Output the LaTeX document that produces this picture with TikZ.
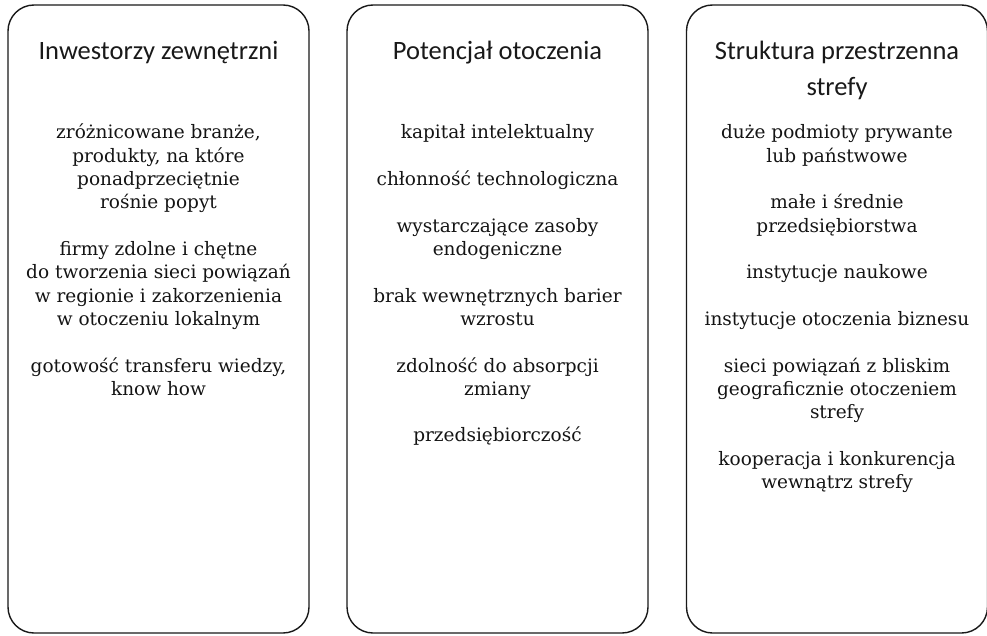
\documentclass[tikz,border=0pt]{standalone}
\usepackage{fontspec}
\setmainfont{DejaVu Serif}
\newfontfamily\titlefont{Carlito}
\begin{document}
\begin{tikzpicture}[x=1pt,y=-1pt,
  panel/.style={draw=black!90, line width=1.4pt, rounded corners=26pt, minimum width=301pt, minimum height=628pt, inner sep=0pt},
  ttl/.style={font=\titlefont\fontsize{26.5}{30}\selectfont, text=black!90, anchor=base, inner sep=0pt},
  bd/.style={font=\fontsize{18.5}{22}\selectfont, text=black!92, anchor=base, inner sep=0pt}]
\useasboundingbox (0,0) rectangle (987,636);
\def\bz{139}\def\st{23.3}
\node[panel] (p1) at (158.5,319) {};
\node[panel] (p2) at (497.5,319) {};
\node[panel] (p3) at (837,319) {};
% titles
\node[ttl] (t1) at (158.5,60) {Inwestorzy zewnętrzni};
\node[ttl] (t2) at (497.5,60) {Potencjał otoczenia};
\node[ttl] (t3a) at (837,60) {Struktura przestrzenna};
\node[ttl] (t3b) at (837,96) {strefy};
% box 1
\node[bd] (a1) at (158.5,{\bz+0*\st}) {zróżnicowane branże,};
\node[bd] (a2) at (158.5,{\bz+1*\st}) {produkty, na które};
\node[bd] (a3) at (158.5,{\bz+2*\st}) {ponadprzeciętnie};
\node[bd] (a4) at (158.5,{\bz+3*\st}) {rośnie popyt};
\node[bd] (a5) at (158.5,{\bz+5*\st}) {firmy zdolne i chętne};
\node[bd] (a6) at (158.5,{\bz+6*\st}) {do tworzenia sieci powiązań};
\node[bd] (a7) at (158.5,{\bz+7*\st}) {w regionie i zakorzenienia};
\node[bd] (a8) at (158.5,{\bz+8*\st}) {w otoczeniu lokalnym};
\node[bd] (a9) at (158.5,{\bz+10*\st}) {gotowość transferu wiedzy,};
\node[bd] (a10) at (158.5,{\bz+11*\st}) {know how};
% box 2
\node[bd] (b1) at (497.5,{\bz+0*\st}) {kapitał intelektualny};
\node[bd] (b2) at (497.5,{\bz+2*\st}) {chłonność technologiczna};
\node[bd] (b3) at (497.5,{\bz+4*\st}) {wystarczające zasoby};
\node[bd] (b4) at (497.5,{\bz+5*\st}) {endogeniczne};
\node[bd] (b5) at (497.5,{\bz+7*\st}) {brak wewnętrznych barier};
\node[bd] (b6) at (497.5,{\bz+8*\st}) {wzrostu};
\node[bd] (b7) at (497.5,{\bz+10*\st}) {zdolność do absorpcji};
\node[bd] (b8) at (497.5,{\bz+11*\st}) {zmiany};
\node[bd] (b9) at (497.5,{\bz+13*\st}) {przedsiębiorczość};
% box 3
\node[bd] (c1) at (837,{\bz+0*\st}) {duże podmioty prywante};
\node[bd] (c2) at (837,{\bz+1*\st}) {lub państwowe};
\node[bd] (c3) at (837,{\bz+3*\st}) {małe i średnie};
\node[bd] (c4) at (837,{\bz+4*\st}) {przedsiębiorstwa};
\node[bd] (c5) at (837,{\bz+6*\st}) {instytucje naukowe};
\node[bd] (c6) at (837,{\bz+8*\st}) {instytucje otoczenia biznesu};
\node[bd] (c7) at (837,{\bz+10*\st}) {sieci powiązań z bliskim};
\node[bd] (c8) at (837,{\bz+11*\st}) {geograficznie otoczeniem};
\node[bd] (c9) at (837,{\bz+12*\st}) {strefy};
\node[bd] (c10) at (837,{\bz+14*\st}) {kooperacja i konkurencja};
\node[bd] (c11) at (837,{\bz+15*\st}) {wewnątrz strefy};
\end{tikzpicture}
\end{document}
